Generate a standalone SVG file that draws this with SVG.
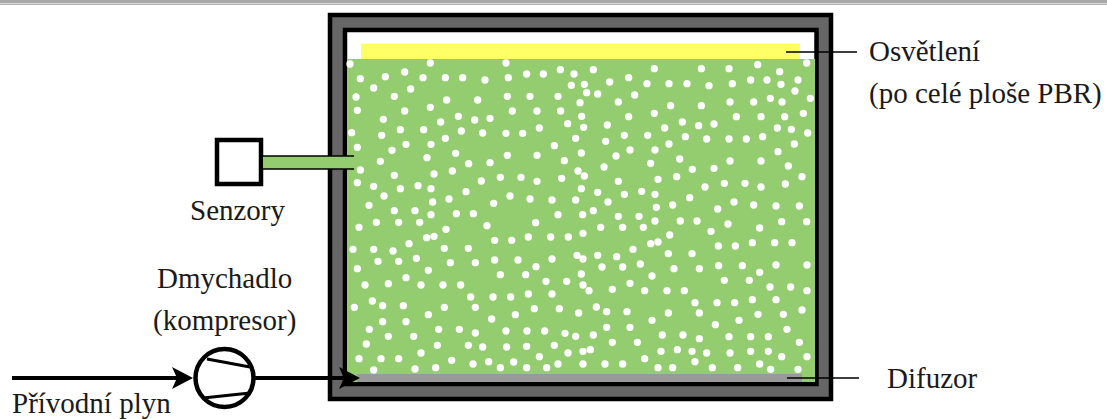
<svg xmlns="http://www.w3.org/2000/svg" width="1107" height="419" viewBox="0 0 1107 419">
<style>
text{font-family:"Liberation Serif","Times New Roman",serif;font-size:29px;fill:#1a1a1a}
.dots{fill:none;stroke:#fff;stroke-width:22;stroke-linecap:round}
.ln{fill:none;stroke:#000}
</style>
<defs>
<polygon id="head" points="0,0 -21,-11 -16,0 -21,11" fill="#000"/>
</defs>
<rect width="1107" height="419" fill="#fff"/>
<rect width="1107" height="3.4" fill="#a8a8a8"/>
<rect y="4" width="1107" height="1" fill="#b0b0b0"/>
<g id="reactor">
<rect x="330" y="15" width="501" height="384" fill="#666" stroke="#000" stroke-width="4.5"/>
<rect x="345" y="30" width="471.500" height="354" fill="#fff" stroke="#000" stroke-width="4.500"/>
<rect x="347" y="59" width="468" height="323" fill="#93cd6f"/>
<g id="bubbles" class="dots">
<path transform="translate(345 55) scale(.33333)" d="M15 27h0M256 24h0M46 71h0M121 65h0M179 51h0M234 68h0M301 68h0M353 68h0M420 75h0M86 99h0M197 102h0M33 126h0M148 124h0M305 135h0M398 135h0M37 166h0M179 168h0M256 157h0M115 193h0M287 201h0M340 184h0M389 195h0M435 190h0M20 233h0M110 241h0M166 224h0M236 224h0M349 228h0M413 234h0M37 277h0M183 268h0M258 268h0M301 250h0M141 286h0M246 308h0M332 295h0M106 319h0M371 326h0M435 323h0M46 345h0M148 361h0M267 357h0M322 348h0M466 367h0M37 383h0M86 394h0M166 401h0M219 392h0M258 401h0M409 378h0M117 423h0M363 410h0M72 451h0M263 441h0M312 432h0M446 445h0M148 467h0M210 467h0M258 479h0M334 476h0M385 476h0"/>
<path transform="translate(505 55) scale(.33333)" d="M3 24h0M10 68h0M65 57h0M115 57h0M166 44h0M207 57h0M265 44h0M448 41h0M371 68h0M199 91h0M238 88h0M314 81h0M426 86h0M245 113h0M278 117h0M7 124h0M75 124h0M159 124h0M389 120h0M225 143h0M340 141h0M22 168h0M96 168h0M167 168h0M448 175h0M230 184h0M371 185h0M188 206h0M236 217h0M307 210h0M103 219h0M3 235h0M53 235h0M358 241h0M428 241h0M212 250h0M302 259h0M148 272h0M375 285h0M450 285h0M7 301h0M96 301h0M229 294h0M333 303h0M178 317h0M437 325h0M297 336h0M219 348h0M238 363h0M48 367h0M96 379h0M170 370h0M340 379h0M459 373h0M229 401h0M278 412h0M358 418h0M410 409h0M450 418h0M15 423h0M75 432h0M141 435h0M212 435h0M309 441h0M454 457h0M265 467h0M159 479h0M233 479h0M340 484h0M402 484h0"/>
<path transform="translate(660 55) scale(.33333)" d="M440 24h0M293 29h0M124 41h0M207 41h0M359 50h0M272 75h0M321 75h0M414 75h0M27 86h0M81 86h0M147 92h0M217 86h0M363 88h0M405 108h0M331 130h0M451 130h0M210 141h0M281 141h0M366 141h0M32 152h0M124 152h0M430 175h0M229 185h0M303 185h0M374 185h0M67 201h0M116 212h0M162 207h0M14 219h0M352 219h0M394 223h0M443 234h0M76 245h0M140 252h0M207 252h0M259 252h0M308 245h0M27 267h0M403 267h0M354 290h0M59 312h0M210 318h0M303 318h0M385 333h0M97 343h0M162 340h0M50 365h0M426 365h0M135 396h0M193 385h0M255 385h0M303 396h0M376 387h0M89 428h0M222 441h0M38 450h0M281 450h0M348 453h0M418 453h0M173 462h0"/>
<path transform="translate(345 220) scale(.33333)" d="M42 22h0M94 7h0M161 7h0M224 7h0M303 28h0M426 17h0M245 53h0M267 49h0M449 61h0M192 71h0M24 88h0M86 88h0M144 93h0M298 85h0M370 85h0M99 124h0M161 124h0M214 115h0M316 128h0M391 128h0M449 120h0M37 146h0M250 151h0M466 164h0M183 173h0M60 195h0M130 191h0M228 195h0M294 195h0M347 195h0M377 231h0M444 231h0M82 243h0M113 257h0M175 257h0M28 262h0M298 262h0M391 262h0M250 284h0M440 297h0M113 305h0M183 305h0M73 328h0M281 328h0M343 328h0M391 339h0M130 349h0M206 349h0M64 372h0M277 376h0M370 376h0M413 381h0M228 399h0M42 416h0M108 416h0M161 416h0M320 421h0M384 432h0M431 425h0M466 443h0M86 450h0M210 447h0M272 443h0"/>
<path transform="translate(505 220) scale(.33333)" d="M92 8h0M287 22h0M353 22h0M415 22h0M450 3h0M234 40h0M70 51h0M137 51h0M190 51h0M20 61h0M437 71h0M459 66h0M384 88h0M216 106h0M234 117h0M278 106h0M335 110h0M39 120h0M141 117h0M406 132h0M93 140h0M291 141h0M353 141h0M62 164h0M229 162h0M441 168h0M123 184h0M185 184h0M375 190h0M234 195h0M252 212h0M322 208h0M419 212h0M70 222h0M141 222h0M17 231h0M88 266h0M163 266h0M274 261h0M305 275h0M366 275h0M221 279h0M31 284h0M441 301h0M305 322h0M375 322h0M3 333h0M66 333h0M119 333h0M180 340h0M212 349h0M265 345h0M472 345h0M322 367h0M397 367h0M148 376h0M65 379h0M5 381h0M256 389h0M234 394h0M189 399h0M468 394h0M103 410h0M419 416h0M26 426h0M159 432h0M234 432h0M300 432h0M353 432h0M65 443h0M125 443h0M459 443h0"/>
<path transform="translate(660 220) scale(.33333)" d="M61 3h0M111 3h0M365 5h0M440 5h0M204 12h0M299 24h0M153 34h0M29 45h0M277 68h0M344 68h0M396 68h0M175 78h0M226 78h0M25 101h0M96 101h0M176 137h0M247 137h0M348 135h0M441 135h0M42 146h0M118 146h0M299 157h0M193 181h0M268 181h0M330 201h0M392 201h0M21 212h0M73 212h0M441 212h0M277 239h0M348 239h0M105 248h0M171 248h0M224 248h0M426 270h0M25 279h0M118 279h0M294 283h0M370 283h0M237 301h0M166 314h0M381 328h0M69 345h0M118 356h0M207 350h0M272 350h0M325 350h0M418 367h0M52 389h0M96 394h0M140 399h0M210 399h0M272 394h0M325 394h0M365 410h0M441 410h0M105 425h0M38 443h0M157 443h0M233 443h0M299 432h0M332 448h0M414 448h0"/>
</g>
</g>
<g id="lighting">
<rect x="361" y="44" width="439" height="15" fill="#ffff66"/>
<text x="869" y="61">Osvětlení</text>
<text x="869" y="103">(po celé ploše PBR)</text>
</g>
<g id="diffuser">
<rect x="357" y="374" width="445" height="8" fill="#999"/>
<text x="887" y="388">Difuzor</text>
</g>
<g id="sensor">
<rect x="217" y="140" width="44" height="44" fill="#fff" stroke="#000" stroke-width="4.500"/>
<rect x="263" y="156" width="91" height="13" fill="#93cd6f"/>
<path class="ln" stroke-width="1.500" d="M263 156H354M263 169H354"/>
<text x="190" y="220">Senzory</text>
</g>
<g id="compressor">
<circle cx="224.500" cy="378" r="29" fill="#fff" stroke="#000" stroke-width="4.500"/>
<path class="ln" stroke-width="3" d="M207 359L250 367M203 398L250 393"/>
<text x="157" y="288">Dmychadlo</text>
<text x="153" y="330">(kompresor)</text>
</g>
<g id="feed">
<text x="12" y="413">Přívodní plyn</text>
</g>
<g id="connectors">
<path class="ln" stroke-width="4" d="M12 378H178M255 378H345"/>
<use href="#head" x="193" y="378"/>
<use href="#head" x="360" y="378"/>
<path class="ln" stroke-width="1.500" d="M786 52H857M787 378H859"/>
</g>
</svg>
